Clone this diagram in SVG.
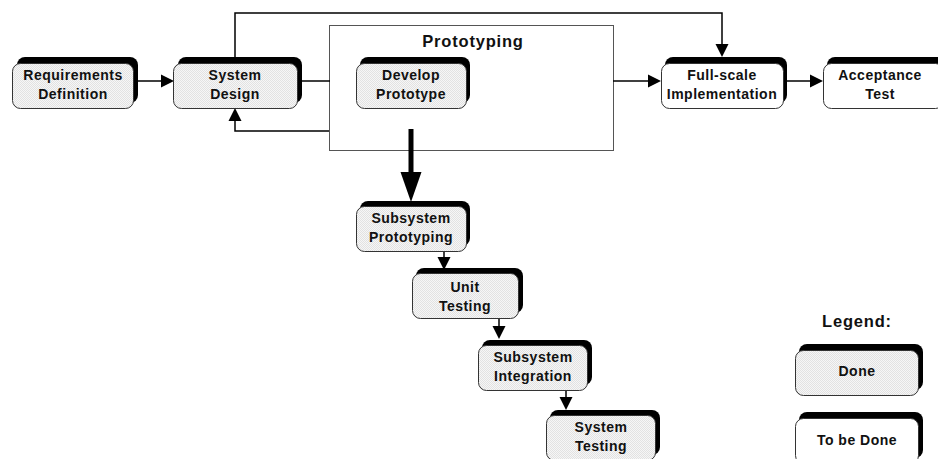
<svg xmlns="http://www.w3.org/2000/svg" width="938" height="459" viewBox="0 0 938 459">
  <style>
    .lbl { font-family: "Liberation Sans", Arial, sans-serif; font-weight: bold; font-size: 14px; letter-spacing: 0.5px; fill: #111; text-anchor: middle; }
    .ttl { font-family: "Liberation Sans", Arial, sans-serif; font-weight: bold; font-size: 16.5px; letter-spacing: 0.8px; fill: #111; text-anchor: middle; }
    .shadow { fill: #000; }
    .done { fill: url(#dither); stroke: #333; stroke-width: 1; }
    .todo { fill: #fff; stroke: #333; stroke-width: 1; }
    .wire { fill: none; stroke: #000; stroke-width: 1.5; }
    .thick { fill: none; stroke: #000; stroke-width: 5; }
    .head { fill: #000; }
  </style>
  <defs>
    <!-- fine checker fill for completed steps -->
    <pattern id="dither" width="2" height="2" patternUnits="userSpaceOnUse">
      <rect width="2" height="2" fill="#f6f6f6"/>
      <rect width="1" height="1" fill="#e2e2e2"/>
      <rect x="1" y="1" width="1" height="1" fill="#e2e2e2"/>
    </pattern>
  </defs>

  <rect width="938" height="459" fill="#fff"/>

  <!-- Prototyping container -->
  <g id="prototyping">
    <rect x="329.5" y="25.5" width="284" height="125" fill="#fff" stroke="#555" stroke-width="1"/>
    <text class="ttl" x="473" y="47">Prototyping</text>
  </g>

  <!-- connectors -->
  <g id="connectors">
    <!-- Requirements -> System Design -->
    <line class="wire" x1="138" y1="81" x2="162" y2="81"/>
    <polygon class="head" points="174,81 161,74.5 161,87.5"/>
    <!-- System Design -> Prototyping -->
    <line class="wire" x1="302" y1="81" x2="330" y2="81"/>
    <!-- System Design over the top -> Full-scale -->
    <polyline class="wire" points="235,57 235,13 722,13 722,45"/>
    <polygon class="head" points="722,57 715.5,44 728.5,44"/>
    <!-- Prototyping feedback -> System Design -->
    <polyline class="wire" points="329,131 235,131 235,120"/>
    <polygon class="head" points="235,108 228.5,121 241.5,121"/>
    <!-- Prototyping -> Full-scale -->
    <line class="wire" x1="613" y1="81" x2="650" y2="81"/>
    <polygon class="head" points="661,81 648,74.5 648,87.5"/>
    <!-- Full-scale -> Acceptance -->
    <line class="wire" x1="787" y1="81" x2="811" y2="81"/>
    <polygon class="head" points="823,81 810,74.5 810,87.5"/>
    <!-- Prototyping -> Subsystem Prototyping (thick) -->
    <line class="thick" x1="411" y1="129" x2="411" y2="174"/>
    <polygon class="head" points="411,202 400.5,172 421.5,172"/>
    <!-- Subsystem Prototyping -> Unit Testing -->
    <line class="wire" x1="444" y1="251" x2="444" y2="259"/>
    <polygon class="head" points="444,270 437.5,257 450.5,257"/>
    <!-- Unit Testing -> Subsystem Integration -->
    <line class="wire" x1="499" y1="319" x2="499" y2="328"/>
    <polygon class="head" points="499,339 492.5,326 505.5,326"/>
    <!-- Subsystem Integration -> System Testing -->
    <line class="wire" x1="566" y1="390" x2="566" y2="399"/>
    <polygon class="head" points="566,410 559.5,397 572.5,397"/>
  </g>

  <g id="requirements-definition">
    <rect class="shadow" x="17" y="57" width="121" height="46" rx="8"/>
    <rect class="done" x="12.5" y="63.5" width="121" height="45" rx="8"/>
    <text class="lbl" x="73" y="80">Requirements</text>
    <text class="lbl" x="73" y="99">Definition</text>
  </g>

  <g id="system-design">
    <rect class="shadow" x="178" y="57" width="124" height="46" rx="8"/>
    <rect class="done" x="173.5" y="63.5" width="124" height="45" rx="8"/>
    <text class="lbl" x="235" y="80">System</text>
    <text class="lbl" x="235" y="99">Design</text>
  </g>

  <g id="develop-prototype">
    <rect class="shadow" x="360" y="57" width="110" height="46" rx="8"/>
    <rect class="done" x="356.5" y="63.5" width="110" height="45" rx="8"/>
    <text class="lbl" x="411" y="80">Develop</text>
    <text class="lbl" x="411" y="99">Prototype</text>
  </g>

  <g id="full-scale-implementation">
    <rect class="shadow" x="665" y="57" width="122" height="46" rx="8"/>
    <rect class="todo" x="661.5" y="63.5" width="122" height="45" rx="8"/>
    <text class="lbl" x="722" y="80">Full-scale</text>
    <text class="lbl" x="722" y="99">Implementation</text>
  </g>

  <g id="acceptance-test">
    <rect class="shadow" x="827" y="57" width="120" height="46" rx="8"/>
    <rect class="todo" x="823.5" y="63.5" width="120" height="45" rx="8"/>
    <text class="lbl" x="880" y="80">Acceptance</text>
    <text class="lbl" x="880" y="99">Test</text>
  </g>

  <g id="subsystem-prototyping">
    <rect class="shadow" x="360" y="201" width="110" height="45" rx="8"/>
    <rect class="done" x="356.5" y="206.5" width="110" height="45" rx="8"/>
    <text class="lbl" x="411" y="223">Subsystem</text>
    <text class="lbl" x="411" y="242">Prototyping</text>
  </g>

  <g id="unit-testing">
    <rect class="shadow" x="416" y="268" width="107" height="45" rx="8"/>
    <rect class="done" x="412.5" y="273.5" width="106" height="45" rx="8"/>
    <text class="lbl" x="465" y="292">Unit</text>
    <text class="lbl" x="465" y="311">Testing</text>
  </g>

  <g id="subsystem-integration">
    <rect class="shadow" x="482" y="340" width="110" height="45" rx="8"/>
    <rect class="done" x="478.5" y="345.5" width="109" height="45" rx="8"/>
    <text class="lbl" x="533" y="362">Subsystem</text>
    <text class="lbl" x="533" y="381">Integration</text>
  </g>

  <g id="system-testing">
    <rect class="shadow" x="550" y="410" width="110" height="45" rx="8"/>
    <rect class="done" x="546.5" y="415.5" width="109" height="45" rx="8"/>
    <text class="lbl" x="601" y="432">System</text>
    <text class="lbl" x="601" y="451">Testing</text>
  </g>

  <!-- legend -->
  <g id="legend">
    <text class="ttl" x="857" y="327">Legend:</text>
  </g>
  <g id="legend-done">
    <rect class="shadow" x="799" y="344" width="124" height="46" rx="8"/>
    <rect class="done" x="795.5" y="350.5" width="123" height="45" rx="8"/>
    <text class="lbl" x="857" y="376">Done</text>
  </g>
  <g id="legend-to-be-done">
    <rect class="shadow" x="799" y="412" width="124" height="46" rx="8"/>
    <rect class="todo" x="795.5" y="418.5" width="123" height="45" rx="8"/>
    <text class="lbl" x="857" y="445">To be Done</text>
  </g>
</svg>
